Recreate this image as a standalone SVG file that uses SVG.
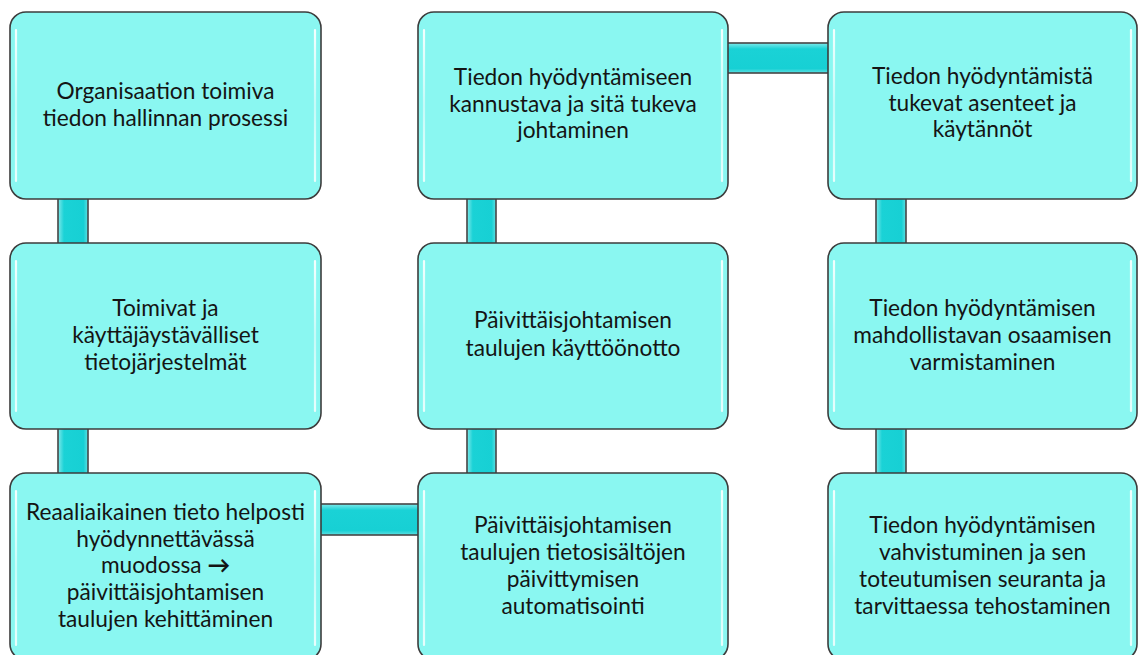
<svg xmlns="http://www.w3.org/2000/svg" width="1139" height="655" viewBox="0 0 1139 655">
<defs>
<linearGradient id="cg" x1="0" y1="0" x2="0" y2="1">
<stop offset="0" stop-color="#7fe9ea"/>
<stop offset="0.2" stop-color="#1ad2d6"/>
<stop offset="0.85" stop-color="#17d0d4"/>
<stop offset="1" stop-color="#5fdfe1"/>
</linearGradient>
<linearGradient id="cgv" x1="0" y1="0" x2="1" y2="0">
<stop offset="0" stop-color="#7fe9ea"/>
<stop offset="0.2" stop-color="#1ad2d6"/>
<stop offset="0.85" stop-color="#17d0d4"/>
<stop offset="1" stop-color="#5fdfe1"/>
</linearGradient>
<linearGradient id="hl" x1="0" y1="0" x2="0" y2="1">
<stop offset="0" stop-color="#ffffff" stop-opacity="0.9"/>
<stop offset="0.5" stop-color="#ffffff" stop-opacity="0.5"/>
<stop offset="1" stop-color="#ffffff" stop-opacity="0.8"/>
</linearGradient>
</defs>
<style>
.box{fill:#8af7f1;stroke:#3c3c3c;stroke-width:1.6}
.hl{fill:none;stroke:url(#hl);stroke-width:2.2;stroke-linecap:round}
.ch{fill:url(#cg);stroke:#454545;stroke-width:1.6}
.cv{fill:url(#cgv);stroke:#454545;stroke-width:1.6}
text{font-family:Lato,"Liberation Sans",sans-serif;font-size:22.7px;fill:#141414;text-anchor:middle}
.ar{font-weight:bold}
</style>
<rect width="1139" height="655" fill="#ffffff"/>
<g id="connectors">
<rect class="cv" x="58" y="190" width="30" height="62"/>
<rect class="cv" x="58" y="420" width="30" height="62"/>
<rect class="cv" x="467" y="190" width="29" height="62"/>
<rect class="cv" x="467" y="420" width="29" height="62"/>
<rect class="cv" x="876" y="190" width="30" height="62"/>
<rect class="cv" x="876" y="420" width="30" height="62"/>
<rect class="ch" x="310" y="504" width="116" height="31"/>
<rect class="ch" x="720" y="43" width="116" height="30"/>
</g>
<g id="n1">
<rect class="box" x="10" y="12" width="311" height="187" rx="16"/>
<path class="hl" d="M16 30 V181 M315 30 V181"/>
<text x="165.5" y="99">Organisaation toimiva</text>
<text x="165.5" y="126">tiedon hallinnan prosessi</text>
</g>
<g id="n2">
<rect class="box" x="10" y="243" width="311" height="186" rx="16"/>
<path class="hl" d="M16 261 V411 M315 261 V411"/>
<text x="165.5" y="316">Toimivat ja</text>
<text x="165.5" y="343">käyttäjäystävälliset</text>
<text x="165.5" y="370">tietojärjestelmät</text>
</g>
<g id="n3">
<rect class="box" x="10" y="473" width="311" height="187" rx="16"/>
<path class="hl" d="M16 491 V645 M315 491 V645"/>
<text x="165.5" y="520">Reaaliaikainen tieto helposti</text>
<text x="165.5" y="547">hyödynnettävässä</text>
<text x="165.5" y="573">muodossa <tspan class="ar">→</tspan></text>
<text x="165.5" y="600">päivittäisjohtamisen</text>
<text x="165.5" y="627">taulujen kehittäminen</text>
</g>
<g id="n4">
<rect class="box" x="418" y="12" width="310" height="187" rx="16"/>
<path class="hl" d="M424 30 V181 M722 30 V181"/>
<text x="573" y="85">Tiedon hyödyntämiseen</text>
<text x="573" y="112">kannustava ja sitä tukeva</text>
<text x="573" y="138">johtaminen</text>
</g>
<g id="n5">
<rect class="box" x="418" y="243" width="310" height="186" rx="16"/>
<path class="hl" d="M424 261 V411 M722 261 V411"/>
<text x="573" y="328">Päivittäisjohtamisen</text>
<text x="573" y="356">taulujen käyttöönotto</text>
</g>
<g id="n6">
<rect class="box" x="418" y="473" width="310" height="187" rx="16"/>
<path class="hl" d="M424 491 V645 M722 491 V645"/>
<text x="573" y="533">Päivittäisjohtamisen</text>
<text x="573" y="560">taulujen tietosisältöjen</text>
<text x="573" y="587">päivittymisen</text>
<text x="573" y="614">automatisointi</text>
</g>
<g id="n7">
<rect class="box" x="828" y="12" width="309" height="187" rx="16"/>
<path class="hl" d="M834 30 V181 M1131 30 V181"/>
<text x="982.5" y="84">Tiedon hyödyntämistä</text>
<text x="982.5" y="111">tukevat asenteet ja</text>
<text x="982.5" y="137">käytännöt</text>
</g>
<g id="n8">
<rect class="box" x="828" y="243" width="309" height="186" rx="16"/>
<path class="hl" d="M834 261 V411 M1131 261 V411"/>
<text x="982.5" y="316">Tiedon hyödyntämisen</text>
<text x="982.5" y="343">mahdollistavan osaamisen</text>
<text x="982.5" y="370">varmistaminen</text>
</g>
<g id="n9">
<rect class="box" x="828" y="473" width="309" height="187" rx="16"/>
<path class="hl" d="M834 491 V645 M1131 491 V645"/>
<text x="982.5" y="533">Tiedon hyödyntämisen</text>
<text x="982.5" y="560">vahvistuminen ja sen</text>
<text x="982.5" y="587">toteutumisen seuranta ja</text>
<text x="982.5" y="614">tarvittaessa tehostaminen</text>
</g>
</svg>
